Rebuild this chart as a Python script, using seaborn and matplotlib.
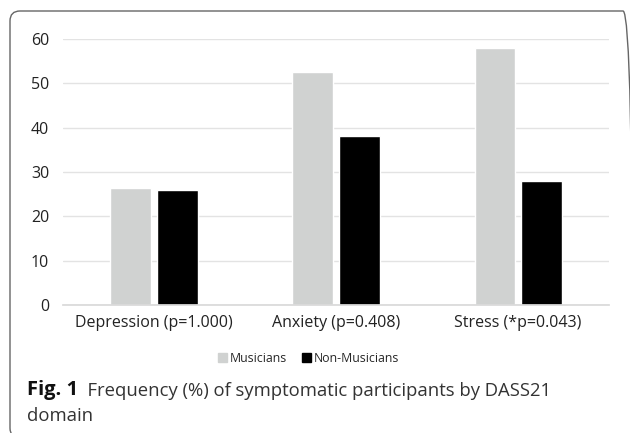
import pandas as pd
import seaborn as sns
import matplotlib.pyplot as plt
from matplotlib.patches import FancyBboxPatch

# values (%)
domains = ["Depression (p=1.000)", "Anxiety (p=0.408)", "Stress (*p=0.043)"]
musicians = [26.3, 52.6, 57.9]
non_musicians = [25.9, 38.0, 27.9]
groups = ["Musicians", "Non-Musicians"]
colors = ["#d0d2d1", "#000000"]

df = pd.DataFrame({
    "domain": domains * 2,
    "freq": musicians + non_musicians,
    "group": [groups[0]] * 3 + [groups[1]] * 3,
})

sns.set_theme(style="white")
plt.rcParams['font.family'] = ['Open Sans', 'DejaVu Sans']

fig = plt.figure(figsize=(6.3, 4.33), dpi=100)
ax = fig.add_axes([0.1, 0.296, 0.867, 0.614])

sns.barplot(data=df, x="domain", y="freq", hue="group", palette=colors,
            width=0.51, gap=0.12, ax=ax, legend=False)

ax.set_ylim(0, 60)
ax.set_xlim(-0.5, 2.5)
ax.set_yticks(range(0, 61, 10))
ax.yaxis.grid(True, color="#e3e3e3", linewidth=1)
ax.set_axisbelow(True)
for s in ["top", "right", "left"]:
    ax.spines[s].set_visible(False)
ax.spines["bottom"].set_color("#d9d9d9")
ax.set_xlabel("")
ax.set_ylabel("")
ax.tick_params(axis="both", length=0, labelsize=11.5, colors="#222222")
ax.tick_params(axis="y", pad=10)
ax.tick_params(axis="x", pad=7)

# legend
handles = [plt.Rectangle((0, 0), 1, 1, color=c) for c in colors]
fig.legend(handles, groups, loc="center", bbox_to_anchor=(0.49, 0.173), ncol=2,
           frameon=False, fontsize=8.8, handlelength=0.75, handleheight=0.75,
           handletextpad=0.25, columnspacing=1.2)

# caption
t = fig.text(0.043, 0.088, "Fig. 1", fontsize=14.5, fontweight="bold", color="#111111")
ax.annotate("  Frequency (%) of symptomatic participants by DASS21", xy=(1, 0),
            xycoords=t, fontsize=13.3, color="#333333", va="bottom")
fig.text(0.043, 0.028, "domain", fontsize=13.3, color="#333333")

# rounded frame, right and bottom edges fall just outside the image
frame = FancyBboxPatch((0.10, -0.05), 6.23, 4.27, boxstyle="round,pad=0,rounding_size=0.1",
                       transform=fig.dpi_scale_trans, fill=False, edgecolor="#666666",
                       linewidth=1.0)
fig.patches.append(frame)

fig.savefig("out.png", dpi=100)
